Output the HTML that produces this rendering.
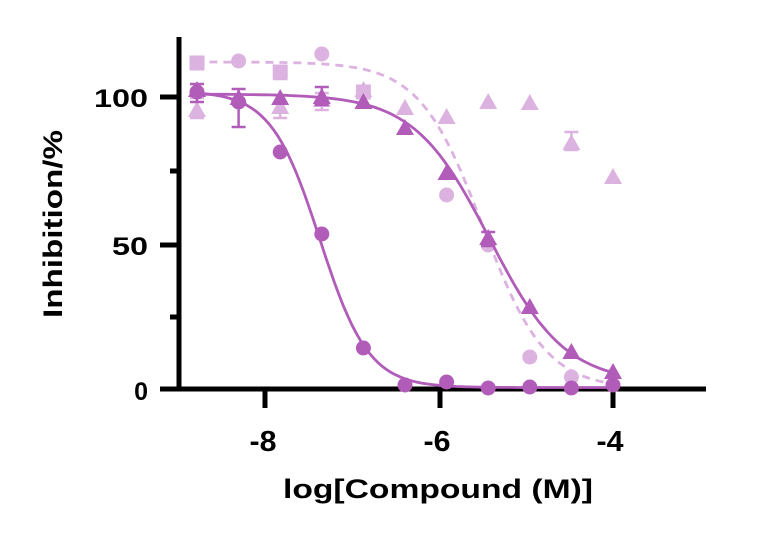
<!DOCTYPE html><html><head><style>body{margin:0;background:#fff}svg{display:block}text{font-family:"Liberation Sans",Arial,sans-serif;font-weight:bold;fill:#000}</style></head><body>
<svg id="s" width="764" height="534" viewBox="0 0 764 534">
<g stroke="#000" stroke-width="5" fill="none">
<line x1="179" y1="37" x2="179" y2="391"/><line x1="176.5" y1="389" x2="706" y2="389"/>
<line x1="265" y1="389" x2="265" y2="408"/><line x1="440" y1="389" x2="440" y2="408"/><line x1="613" y1="389" x2="613" y2="408"/>
<line x1="160" y1="97" x2="179" y2="97"/><line x1="160" y1="245" x2="179" y2="245"/><line x1="160" y1="389" x2="179" y2="389"/>
<line x1="170" y1="171" x2="179" y2="171"/><line x1="170" y1="317" x2="179" y2="317"/>
</g>
<g font-size="29" text-anchor="middle"><text x="263" y="451" textLength="27" lengthAdjust="spacingAndGlyphs">-8</text><text x="437" y="451" textLength="27" lengthAdjust="spacingAndGlyphs">-6</text><text x="610" y="451" textLength="27" lengthAdjust="spacingAndGlyphs">-4</text></g>
<g font-size="25" text-anchor="end"><text x="148" y="107" textLength="54" lengthAdjust="spacingAndGlyphs">100</text><text x="148" y="255" textLength="36" lengthAdjust="spacingAndGlyphs">50</text><text x="148" y="400">0</text></g>
<text x="438" y="498" font-size="27" text-anchor="middle" textLength="310" lengthAdjust="spacingAndGlyphs">log[Compound (M)]</text>
<text transform="translate(62,224) rotate(-90)" font-size="27" text-anchor="middle" textLength="188" lengthAdjust="spacingAndGlyphs">Inhibition/%</text>
<g id="g"></g>
</svg>
<script>
var X=function(l){return 265+(l+8)*87},Y=function(v){return 389-v*2.92};
var g=document.getElementById('g'),ns='http://www.w3.org/2000/svg';
function el(t,a){var e=document.createElementNS(ns,t);for(var k in a)e.setAttribute(k,a[k]);g.appendChild(e);return e}
function curve(top,bot,ic,h,col,dash){var d='';for(var l=-8.8;l<=-3.99;l+=0.05){var v=bot+(top-bot)/(1+Math.pow(10,h*(l-ic)));d+=(d?'L':'M')+X(l).toFixed(1)+','+Y(v).toFixed(1)}el('path',{d:d,fill:'none',stroke:col,'stroke-width':2.8,'stroke-dasharray':dash||'none'})}
var L='#dcb2e0',D='#b15cb9';
function px(i){return 197+i*41.6}
function circ(xs,ys,c){for(var i=0;i<ys.length;i++)if(ys[i]!=null)el('circle',{cx:px(i),cy:ys[i],r:7.5,fill:c})}
function tri(ys,c){for(var i=0;i<ys.length;i++)if(ys[i]!=null){var x=px(i),y=ys[i];el('polygon',{points:(x-9)+','+(y+7)+' '+(x+9)+','+(y+7)+' '+x+','+(y-9),fill:c})}}
function sq(ys,c){for(var i=0;i<ys.length;i++)if(ys[i]!=null){el('rect',{x:px(i)-7.5,y:ys[i]-7.5,width:15,height:15,fill:c})}}
function eb(i,y1,y2,c){var x=px(i);el('path',{d:'M'+x+','+y1+'V'+y2+'M'+(x-7)+','+y1+'H'+(x+7)+'M'+(x-7)+','+y2+'H'+(x+7),stroke:c,'stroke-width':2.5,fill:'none'})}
curve(112,0,-5.5,1.2,L,'8,6');
sq([63,null,72,null,92],L);
circ(0,[null,61,null,54,null,null,195,245,357,377],L);
tri([110,null,107,100,90,108,117,102,103,143,177],L);
eb(0,58,68,L);eb(2,66,79,L);eb(0,98,118,L);eb(2,95,118,L);eb(3,93,110,L);eb(9,132,150,L);
curve(101,2,-5.42,1.0,D);
curve(102,0.5,-7.37,1.55,D);
circ(0,[92,102,152,234,348,385,382,388,387,388,385],D);
tri([90,98,98,97,102,128,173,238,307,352,372],D);
eb(0,84,102,D);eb(1,89,127,D);eb(3,87,105,D);eb(7,232,246,D);
</script>
</body></html>
